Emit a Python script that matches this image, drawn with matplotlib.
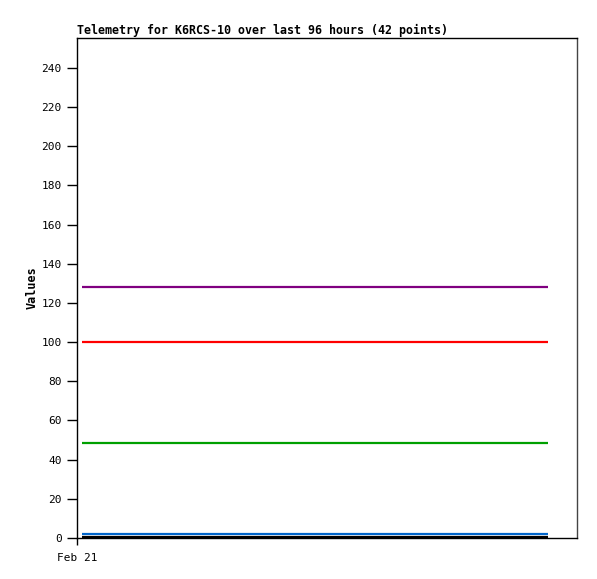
import matplotlib
matplotlib.use("Agg")
import matplotlib.pyplot as plt

# Data (hours since Feb 21 00:00)
times = [1.0, 97.0]
series_purple = [128, 128]
series_red = [100.2, 100.2]
series_green = [48.5, 48.5]
series_blue = [1.8, 1.8]
series_black = [0.5, 0.5]
series_colors = ["#800080", "#ff0000", "#00a000", "#0066cc", "#000000"]
yticks = list(range(0, 241, 20))
xtick_pos = [0]
xtick_labels = ["Feb 21"]

fig = plt.figure(figsize=(5.97, 5.79), dpi=100)
ax = fig.add_axes([77/597, 1-538/579, 500/597, 500/579])
font = "DejaVu Sans Mono"

for vals, c in zip([series_purple, series_red, series_green, series_blue, series_black], series_colors):
    ax.plot(times, vals, color=c, lw=1.6, solid_capstyle="butt")

ax.set_xlim(0, 103)
ax.set_ylim(0, 255.3)
ax.set_yticks(yticks)
ax.set_yticklabels([str(v) for v in yticks], family=font, fontsize=8)
ax.set_xticks(xtick_pos)
ax.set_xticklabels(xtick_labels, family=font, fontsize=8)
ax.tick_params(axis="y", length=7, width=1, pad=4)
ax.tick_params(axis="x", length=5, width=1, pad=6)
for s in ax.spines.values():
    s.set_linewidth(1)
ax.spines["right"].set_color("#444444")
ax.set_title("Telemetry for K6RCS-10 over last 96 hours (42 points)", loc="left",
             family=font, fontsize=8.4, fontweight="bold", pad=3)
ax.set_ylabel("Values", family=font, fontsize=8.5, fontweight="bold")
ax.yaxis.set_label_coords(-38/500, 0.5)

fig.savefig("out.png", dpi=100)
